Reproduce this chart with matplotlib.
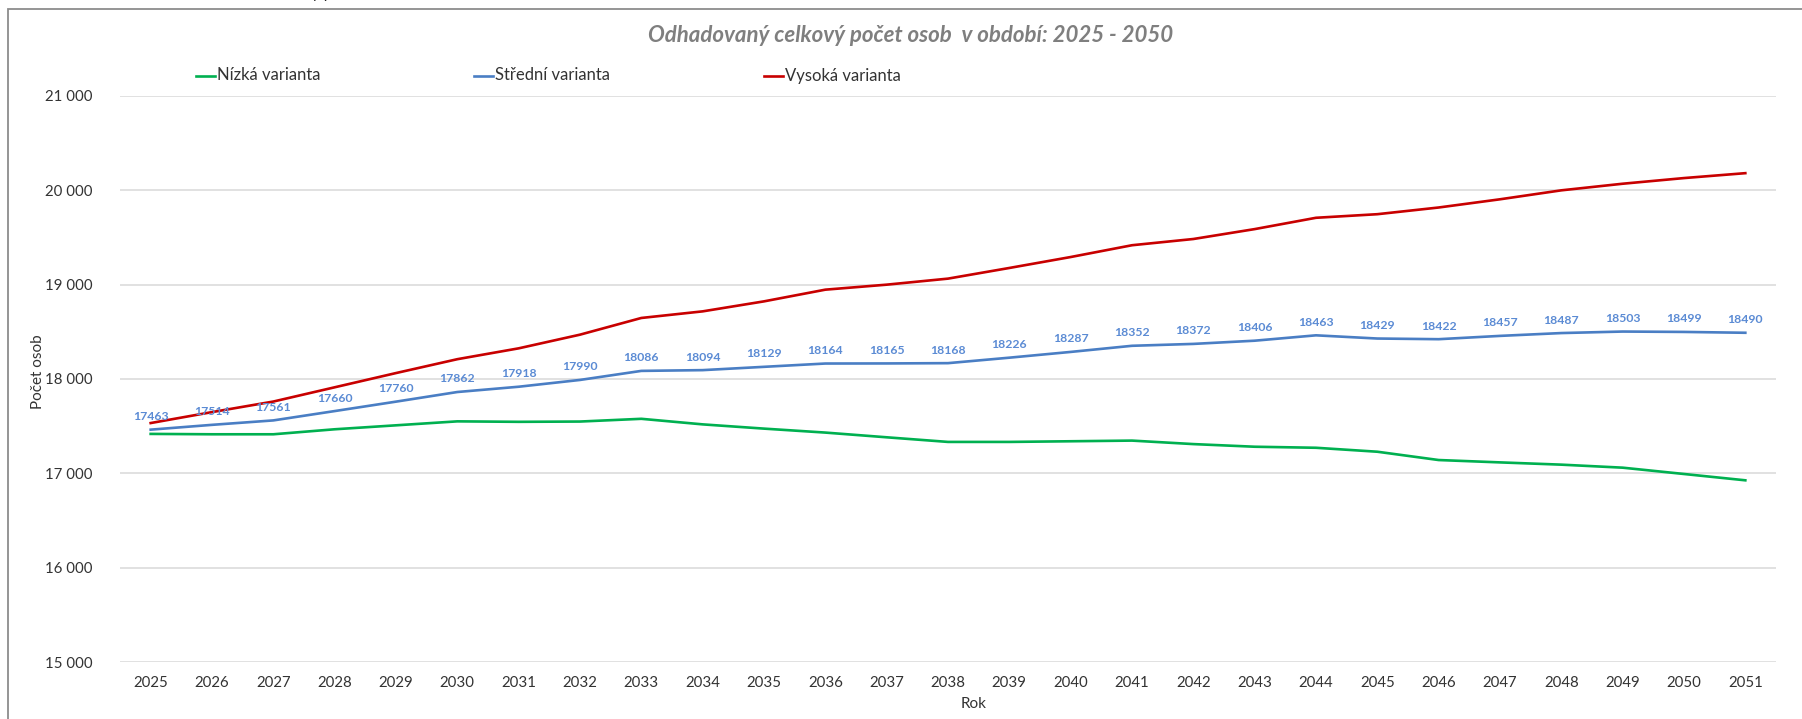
import matplotlib
matplotlib.use("Agg")
import matplotlib.pyplot as plt
from matplotlib.lines import Line2D
from matplotlib.patches import Rectangle
from matplotlib.ticker import FuncFormatter

plt.rcParams['font.family'] = ['Lato', 'DejaVu Sans']

years = [str(y) for y in range(2025, 2052)]

low = [17418, 17414, 17414, 17467, 17509, 17551, 17546, 17549, 17578, 17519,
       17474, 17432, 17382, 17333, 17333, 17340, 17347, 17310, 17282, 17271,
       17229, 17141, 17116, 17092, 17060, 16993, 16926]
mid = [17463, 17514, 17561, 17660, 17760, 17862, 17918, 17990, 18086, 18094,
       18129, 18164, 18165, 18168, 18226, 18287, 18352, 18372, 18406, 18463,
       18429, 18422, 18457, 18487, 18503, 18499, 18490]
high = [17533, 17649, 17761, 17912, 18063, 18210, 18325, 18470, 18647, 18717,
        18823, 18947, 19000, 19064, 19177, 19293, 19418, 19484, 19589, 19709,
        19747, 19818, 19905, 20000, 20070, 20130, 20182]

series_names = ["Nízká varianta", "Střední varianta", "Vysoká varianta"]
series_colors = ["#00B050", "#4A7EC4", "#C80000"]
yticks = [15000, 16000, 17000, 18000, 19000, 20000, 21000]

title = "Odhadovaný celkový počet osob  v období: 2025 - 2050"
xlabel = "Rok"
ylabel = "Počet osob"

W, H = 1802, 719
fig = plt.figure(figsize=(W / 100, H / 100), dpi=100)

# chart area border
fig.patches.append(Rectangle((8 / W, -0.1), 1.2, (H - 9) / H + 0.1,
                             transform=fig.transFigure, fill=False,
                             edgecolor="#8C8C8C", linewidth=1.3))

# fragment of text above the chart area
fig.text(312 / W, 1 + 1.5 / H, "ý p", fontsize=11, color="#222222",
         ha="left", va="baseline")

L, R, T, B = 120, 1776, 96, 662
ax = fig.add_axes([L / W, 1 - B / H, (R - L) / W, (B - T) / H])

x = list(range(len(years)))
for vals, c in zip([low, mid, high], series_colors):
    ax.plot(x, vals, color=c, linewidth=1.9, solid_joinstyle="round")

for i, v in enumerate(mid):
    ax.annotate(str(v), (i, v), xytext=(0, 9.4), textcoords="offset points",
                ha="center", va="center", fontsize=8.8, fontweight="bold",
                color="#5B8BD4")

ax.set_xlim(-0.5, len(years) - 0.5)
ax.set_ylim(15000, 21000)
ax.set_yticks(yticks)
ax.yaxis.set_major_formatter(FuncFormatter(lambda v, p: f"{int(v):,}".replace(",", " ")))
ax.set_xticks(x)
ax.set_xticklabels(years)
ax.grid(axis="y", color="#DCDCDC", linewidth=1.2)
ax.set_axisbelow(True)
for s in ax.spines.values():
    s.set_visible(False)
ax.tick_params(axis="y", length=0, pad=20, labelsize=10.8, labelcolor="#333333")
ax.tick_params(axis="x", length=0, pad=10, labelsize=10.8, labelcolor="#333333")

fig.text(974 / W, 1 - 704 / H, xlabel, ha="center", va="center",
         fontsize=11, color="#333333")
fig.text(38 / W, 1 - 372 / H, ylabel, ha="center", va="center",
         rotation=90, fontsize=11, color="#333333")

fig.text(911 / W, 1 - 35 / H, title, ha="center", va="center",
         fontsize=16, fontstyle="italic", fontweight="bold", color="#7F7F7F")

# legend
leg_x = [196, 474, 764]
leg_y = 1 - 75.5 / H
for lx, name, c in zip(leg_x, series_names, series_colors):
    fig.add_artist(Line2D([lx / W, (lx + 19) / W], [leg_y, leg_y],
                          transform=fig.transFigure, color=c, linewidth=1.9))
    fig.text((lx + 21) / W, leg_y, name, ha="left", va="center",
             fontsize=12, color="#333333")

fig.savefig("out.png", dpi=100)
